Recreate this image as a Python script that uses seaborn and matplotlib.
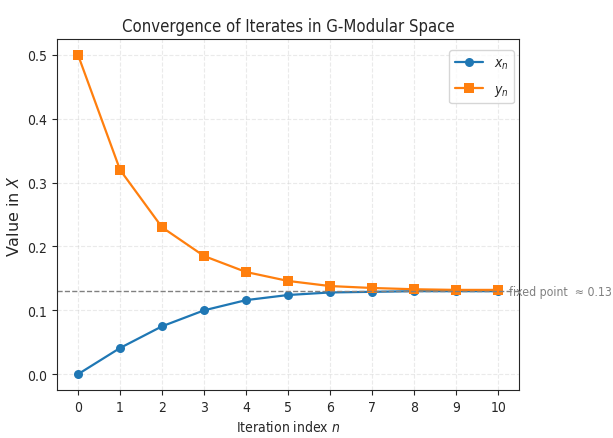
import matplotlib
matplotlib.use("Agg")
import matplotlib.pyplot as plt
import pandas as pd
import seaborn as sns

# Values
iterations = [0, 1, 2, 3, 4, 5, 6, 7, 8, 9, 10]
x_vals = [0.0, 0.041, 0.075, 0.100, 0.116, 0.124, 0.128, 0.129, 0.130, 0.130, 0.130]
y_vals = [0.500, 0.320, 0.230, 0.185, 0.160, 0.146, 0.138, 0.135, 0.133, 0.132, 0.132]
fixed_point = 0.13

df = pd.DataFrame({"n": iterations, "x": x_vals, "y": y_vals})

sns.set_style("ticks")
plt.rcParams['font.family'] = ['DejaVu Sans']
plt.rcParams['font.stretch'] = 'condensed'

fig, ax = plt.subplots(figsize=(6.13, 4.39), dpi=100)
fig.subplots_adjust(left=0.093, right=0.847, top=0.909, bottom=0.109)

sns.lineplot(data=df, x="n", y="x", marker="o", markersize=6.5, linewidth=1.6,
             color="#1f77b4", markeredgewidth=0, label=r"$x_n$", ax=ax)
sns.lineplot(data=df, x="n", y="y", marker="s", markersize=6.5, linewidth=1.6,
             color="#ff7f0e", markeredgewidth=0, label=r"$y_n$", ax=ax)

ax.axhline(fixed_point, color="gray", linestyle="--", linewidth=1)
ax.text(10.25, fixed_point, "fixed point  \u2248 0.13", color="gray",
        va="center", ha="left", fontsize=8.8, clip_on=False)

ax.set_xticks(iterations)
ax.set_xlim(-0.5, 10.5)
ax.set_ylim(-0.025, 0.525)
ax.grid(True, linestyle="--", alpha=0.4)
ax.set_title("Convergence of Iterates in G-Modular Space", fontsize=12)
ax.set_xlabel(r"Iteration index $n$")
ax.set_ylabel(r"Value in $X$", fontsize=11.5, fontstretch="normal")
ax.legend(loc="upper right", bbox_to_anchor=(0.989, 0.969), borderaxespad=0,
          fontsize=10, labelspacing=0.8)

fig.savefig("out.png", dpi=100)
